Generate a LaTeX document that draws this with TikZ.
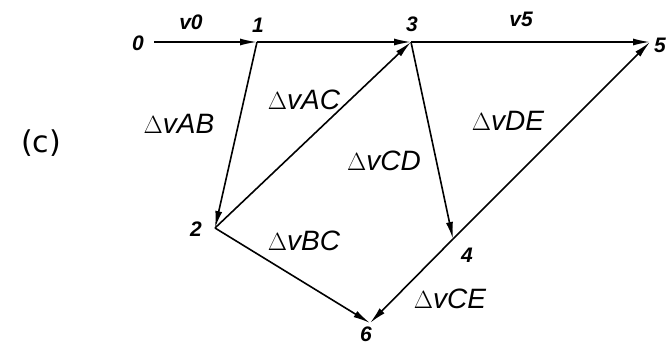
\documentclass[tikz,border=0pt]{standalone}
\usepackage{fontspec}
\setmainfont{Liberation Sans}
\newfontfamily\tagfont{DejaVu Sans}
\usetikzlibrary{arrows.meta, positioning}
\tikzset{
  every picture/.style={line width=1.6pt},
  vec/.style={-{Latex[length=17pt, width=7pt]}},
  num/.style={font=\bfseries\itshape\fontsize{21}{21}\selectfont, inner sep=0.5pt},
  lbl/.style={font=\itshape\fontsize{28}{28}\selectfont, inner sep=1pt},
  figtag/.style={font=\tagfont\fontsize{30}{30}\selectfont, inner sep=1pt},
}
\newcommand{\dv}[1]{$\Delta$v#1}
\begin{document}
\begin{tikzpicture}[x=1pt, y=1pt]
  \useasboundingbox (0,0) rectangle (667,-345);

  % ---- points of the polygon
  \coordinate (p0) at (154,-42);
  \coordinate (p1) at (257,-42);
  \coordinate (p3) at (411,-42);
  \coordinate (p5) at (650,-42);
  \coordinate (p2) at (215,-228);
  \coordinate (p4) at (453,-239);
  \coordinate (p6) at (370,-323);

  % ---- point numbers
  \node[num] (n0) at (138,-43) {0};
  \node[num] (n1) at (258,-25) {1};
  \node[num] (n3) at (412,-24) {3};
  \node[num] (n5) at (660,-45) {5};
  \node[num] (n2) at (196,-229) {2};
  \node[num] (n4) at (467,-255) {4};
  \node[num] (n6) at (366,-334) {6};

  % ---- vectors
  \draw[vec] (p0) -- (p1);
  \draw[vec] (p1) -- (p3);
  \draw[vec] (p3) -- (p5);
  \draw[vec] (p1) -- (p2);
  \draw[vec] (p2) -- (p3);
  \draw[vec] (p3) -- (p4);
  \draw[vec] (p2) -- (p6);
  \draw[vec] (p4) -- (p5);
  \draw[vec] (p4) -- (p6);

  % ---- vector labels
  \node[num] (v0) at (191,-22) {v0};
  \node[num] (v5) at (521,-19) {v5};
  \node[lbl] (ab) at (179,-124) {\dv{AB}};
  \node[lbl] (ac) at (304,-100) {\dv{AC}};
  \node[lbl] (cd) at (384,-161) {\dv{CD}};
  \node[lbl] (bc) at (304,-241) {\dv{BC}};
  \node[lbl] (de) at (508,-121) {\dv{DE}};
  \node[lbl] (ce) at (450,-299) {\dv{CE}};

  \node[figtag] (c) at (41,-143) {(c)};
\end{tikzpicture}
\end{document}
